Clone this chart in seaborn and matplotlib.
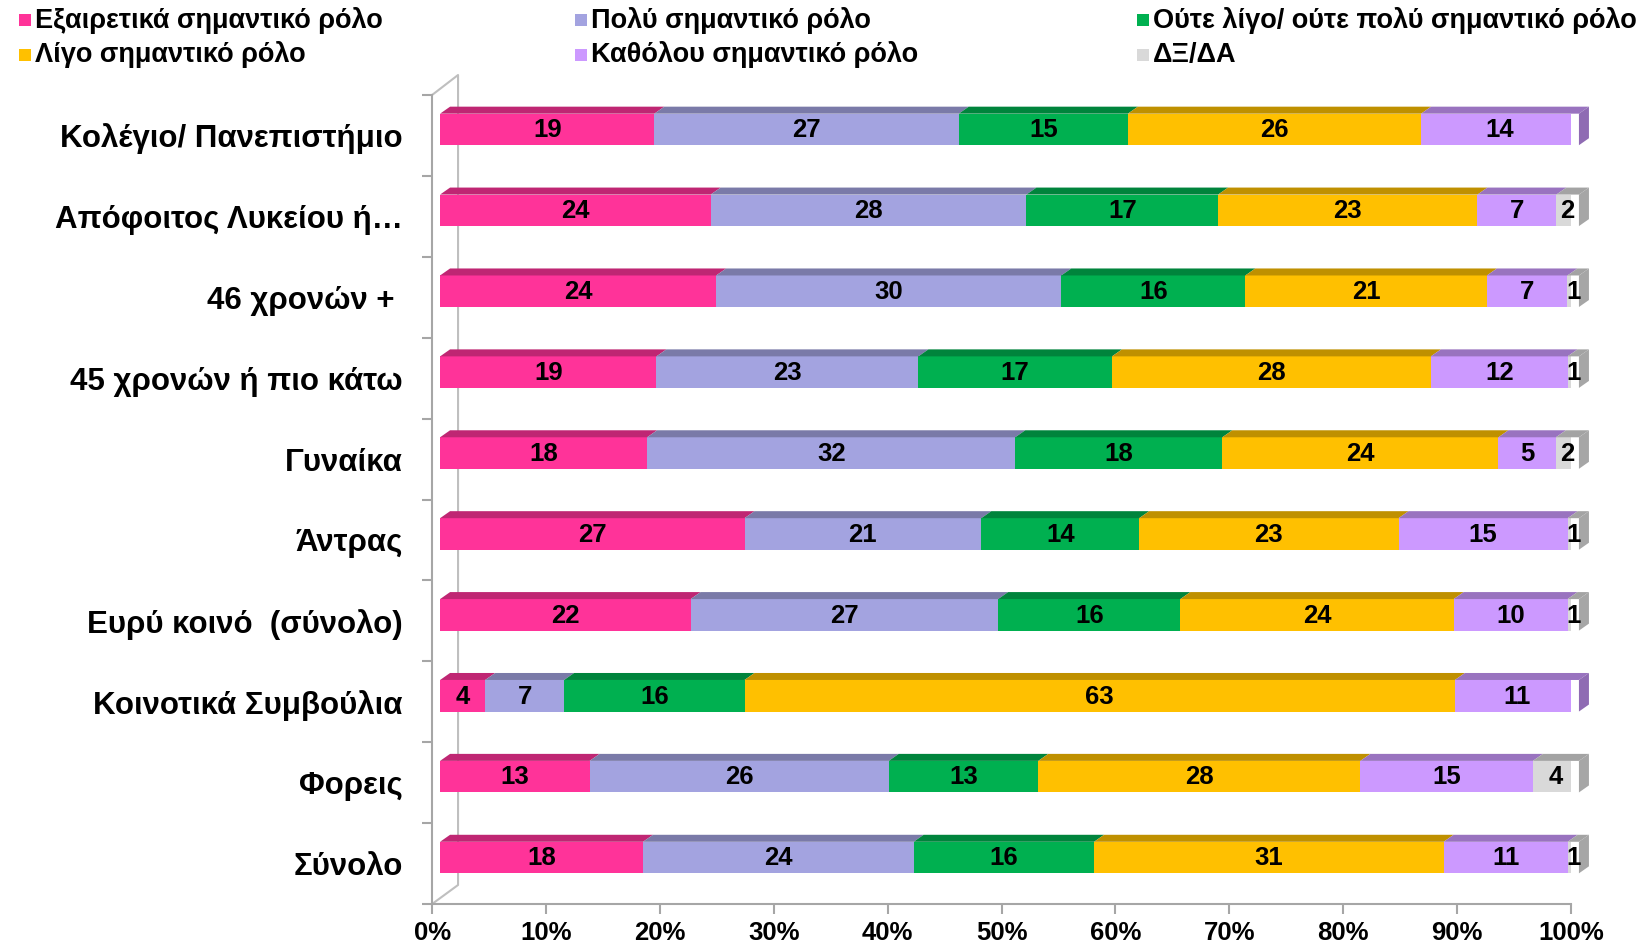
import numpy as np
import pandas as pd
import matplotlib.pyplot as plt
import matplotlib.transforms as mtransforms
from matplotlib.patches import Polygon, Rectangle
from matplotlib.colors import to_rgb
import seaborn as sns

# data (top row first)
categories = ['Κολέγιο/ Πανεπιστήμιο', 'Απόφοιτος Λυκείου ή…', '46 χρονών + ',
              '45 χρονών ή πιο κάτω', 'Γυναίκα', 'Άντρας', 'Ευρύ κοινό  (σύνολο)',
              'Κοινοτικά Συμβούλια', 'Φορεις', 'Σύνολο']
responses = ['Εξαιρετικά σημαντικό ρόλο', 'Πολύ σημαντικό ρόλο',
             'Ούτε λίγο/ ούτε πολύ σημαντικό ρόλο', 'Λίγο σημαντικό ρόλο',
             'Καθόλου σημαντικό ρόλο', 'ΔΞ/ΔΑ']
extremely = [19, 24, 24, 19, 18, 27, 22, 4, 13, 18]
very = [27, 28, 30, 23, 32, 21, 27, 7, 26, 24]
neither = [15, 17, 16, 17, 18, 14, 16, 16, 13, 16]
little = [26, 23, 21, 28, 24, 23, 24, 63, 28, 31]
not_at_all = [14, 7, 7, 12, 5, 15, 10, 11, 15, 11]
dk = [0, 2, 1, 1, 2, 1, 1, 0, 4, 1]
xticks = [0, 10, 20, 30, 40, 50, 60, 70, 80, 90, 100]

colors = ['#FF3399', '#A3A3E0', '#00B050', '#FFC000', '#CC99FF', '#D9D9D9']

vals = np.array([extremely, very, neither, little, not_at_all, dk], dtype=float)
pct = vals / vals.sum(axis=0) * 100
cum = np.cumsum(pct, axis=0)
start = cum - pct

rows = []
for j, r in enumerate(responses):
    for i, c in enumerate(categories):
        rows.append({'category': c, 'response': r, 'value': vals[j, i],
                     'start': start[j, i], 'end': cum[j, i]})
df = pd.DataFrame(rows)


def darker(c, f=0.75):
    return tuple(v * f for v in to_rgb(c))


sns.set_theme(style='white')
plt.rcParams['font.family'] = ['Liberation Sans', 'DejaVu Sans']
plt.rcParams['text.color'] = 'black'

fig = plt.figure(figsize=(16.46, 9.48), dpi=100)
ax = fig.add_axes([0.2625, 0.0464, 0.6919, 0.8534])

bh = 0.39
# 3D look: front face shifted right/up a bit, top face depth
off = mtransforms.ScaledTranslation(0.08, 0.06, fig.dpi_scale_trans)
px_x = 1139 / 100.0
px_y = 80.9
ddx = 10 / px_x
ddy = 7 / px_y

# back wall lines
ax.plot([0, 0.0228, 0.0228, 0], [0, 0.0235, 1.0247, 1.0], transform=ax.transAxes,
        color='#BFBFBF', lw=1.5, clip_on=False, zorder=0)

# stacked bars drawn as overlapping cumulative bars
for j in range(len(responses) - 1, -1, -1):
    sub = df[df['response'] == responses[j]]
    sns.barplot(data=sub, x='end', y='category', order=categories, orient='h',
                color=colors[j], saturation=1, width=bh, linewidth=0,
                errorbar=None, ax=ax, zorder=2)

for p in ax.patches:
    p.set_transform(ax.transData + off)

tr = ax.transData + off
for i in range(len(categories)):
    yt = i - bh / 2
    yb = i + bh / 2
    last = None
    for j in range(len(responses)):
        if vals[j, i] <= 0:
            continue
        x0, x1 = start[j, i], cum[j, i]
        ax.add_patch(Polygon([(x0, yt), (x1, yt), (x1 + ddx, yt - ddy), (x0 + ddx, yt - ddy)],
                             closed=True, facecolor=darker(colors[j]), edgecolor='none',
                             transform=tr, zorder=3, clip_on=False))
        ax.text((x0 + x1) / 2, i + 0.01, '%d' % vals[j, i], ha='center', va='center',
                fontsize=18.5, fontweight='bold', color='black', transform=tr, zorder=5)
        last = j
    x1 = cum[last, i]
    side = '#A6A6A6' if last == 5 else darker(colors[last], 0.7)
    ax.add_patch(Polygon([(x1, yt), (x1, yb), (x1 + ddx, yb - ddy), (x1 + ddx, yt - ddy)],
                         closed=True, facecolor=side, edgecolor='none',
                         transform=tr, zorder=3, clip_on=False))

ax.set_xlim(0, 100)
ax.set_ylim(len(categories) - 0.5, -0.5)
ax.set_xticks(xticks)
ax.set_xticklabels(['%d%%' % t for t in xticks], fontsize=18.5, fontweight='bold')
ax.set_yticks(range(len(categories)))
ax.set_yticklabels(categories, fontsize=22.5, fontweight='bold')
ax.set_yticks(np.arange(-0.5, len(categories), 1), minor=True)
ax.tick_params(axis='y', which='major', length=0, pad=21, labelcolor='black')
ax.tick_params(axis='y', which='minor', length=7, width=1.5, color='#A6A6A6', left=True)
ax.tick_params(axis='x', length=7, width=1.5, color='#A6A6A6', bottom=True, pad=5,
               labelcolor='black')
ax.set_xlabel('')
ax.set_ylabel('')
for s in ['top', 'right']:
    ax.spines[s].set_visible(False)
for s in ['left', 'bottom']:
    ax.spines[s].set_color('#A6A6A6')
    ax.spines[s].set_linewidth(1.5)

# legend, three columns in rows
leg_x = [19, 575, 1137]
leg_y = [20, 55]
order = [(0, 0, 0), (1, 0, 1), (2, 0, 2), (3, 1, 0), (4, 1, 1), (5, 1, 2)]
W, H = 1646.0, 948.0
for j, r, c in order:
    x = leg_x[c]
    y = leg_y[r]
    fig.patches.append(Rectangle((x / W, 1 - (y + 6) / H), 12 / W, 12 / H,
                                 transform=fig.transFigure, facecolor=colors[j],
                                 edgecolor='none'))
    fig.text((x + 16) / W, 1 - y / H, responses[j], fontsize=19.5, fontweight='bold',
             ha='left', va='center', color='black')

fig.savefig('out.png', dpi=100)
